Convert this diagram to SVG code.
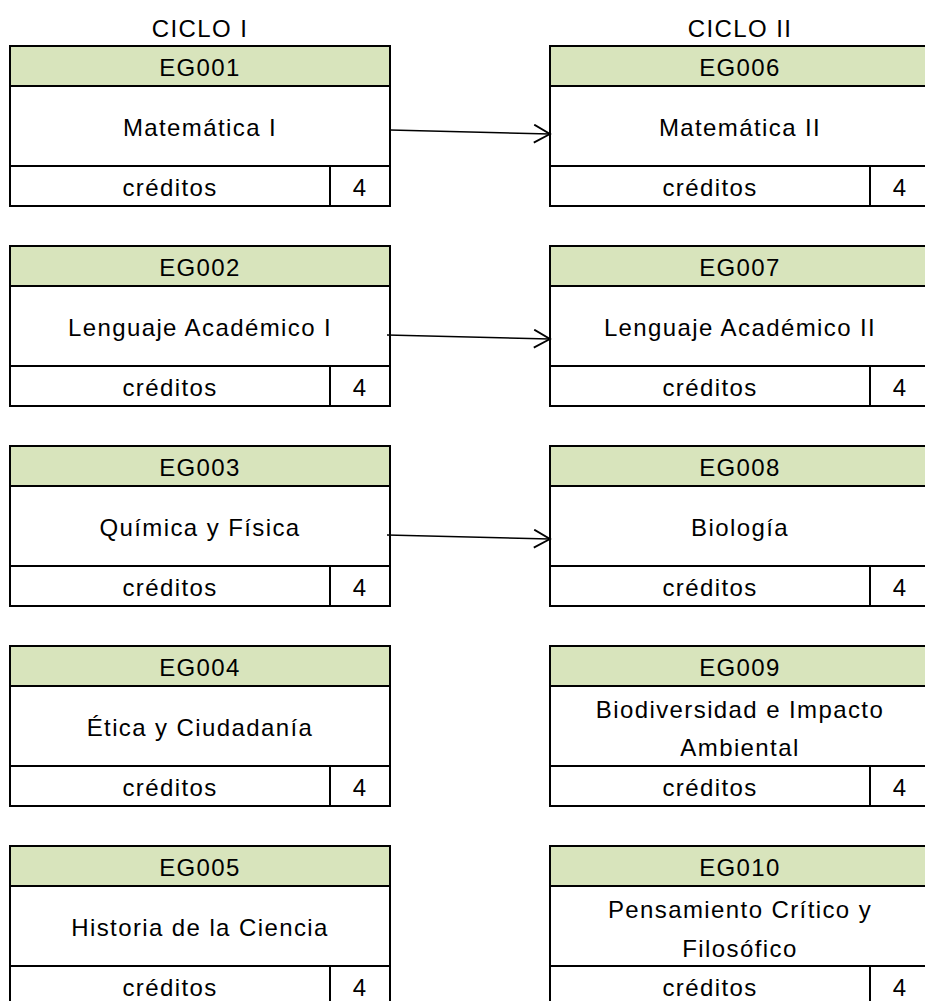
<svg xmlns="http://www.w3.org/2000/svg" width="925" height="1001" viewBox="0 0 925 1001">
<style>
text{font-family:"Liberation Sans",Arial,sans-serif;font-size:24px;fill:#000;text-anchor:middle;letter-spacing:1.4px}
.hdr{fill:#D8E4BC;stroke:#000;stroke-width:2}
.cell{fill:#fff;stroke:#000;stroke-width:2}
.conn{fill:none;stroke:#000;stroke-width:1.5}
</style>
<defs>
<marker id="arr" markerUnits="userSpaceOnUse" markerWidth="20" markerHeight="22" refX="17" refY="10" orient="auto">
<path d="M1,1 L17,10 L1,19" fill="none" stroke="#000" stroke-width="1.8"/>
</marker>
</defs>
<rect width="925" height="1001" fill="#fff"/>
<text x="200" y="37">CICLO I</text>
<text x="740" y="37">CICLO II</text>

<g id="EG001">
<rect class="cell" x="10" y="86" width="380" height="80"/>
<rect class="cell" x="10" y="166" width="320" height="40"/>
<rect class="cell" x="330" y="166" width="60" height="40"/>
<rect class="hdr" x="10" y="46" width="380" height="40"/>
<text x="200" y="76">EG001</text>
<text x="200" y="136">Matemática I</text>
<text x="170" y="196">créditos</text>
<text x="360" y="196">4</text>
</g>
<g id="EG002">
<rect class="cell" x="10" y="286" width="380" height="80"/>
<rect class="cell" x="10" y="366" width="320" height="40"/>
<rect class="cell" x="330" y="366" width="60" height="40"/>
<rect class="hdr" x="10" y="246" width="380" height="40"/>
<text x="200" y="276">EG002</text>
<text x="200" y="336">Lenguaje Académico I</text>
<text x="170" y="396">créditos</text>
<text x="360" y="396">4</text>
</g>
<g id="EG003">
<rect class="cell" x="10" y="486" width="380" height="80"/>
<rect class="cell" x="10" y="566" width="320" height="40"/>
<rect class="cell" x="330" y="566" width="60" height="40"/>
<rect class="hdr" x="10" y="446" width="380" height="40"/>
<text x="200" y="476">EG003</text>
<text x="200" y="536">Química y Física</text>
<text x="170" y="596">créditos</text>
<text x="360" y="596">4</text>
</g>
<g id="EG004">
<rect class="cell" x="10" y="686" width="380" height="80"/>
<rect class="cell" x="10" y="766" width="320" height="40"/>
<rect class="cell" x="330" y="766" width="60" height="40"/>
<rect class="hdr" x="10" y="646" width="380" height="40"/>
<text x="200" y="676">EG004</text>
<text x="200" y="736">Ética y Ciudadanía</text>
<text x="170" y="796">créditos</text>
<text x="360" y="796">4</text>
</g>
<g id="EG005">
<rect class="cell" x="10" y="886" width="380" height="80"/>
<rect class="cell" x="10" y="966" width="320" height="40"/>
<rect class="cell" x="330" y="966" width="60" height="40"/>
<rect class="hdr" x="10" y="846" width="380" height="40"/>
<text x="200" y="876">EG005</text>
<text x="200" y="936">Historia de la Ciencia</text>
<text x="170" y="996">créditos</text>
<text x="360" y="996">4</text>
</g>

<g id="EG006">
<rect class="cell" x="550" y="86" width="380" height="80"/>
<rect class="cell" x="550" y="166" width="320" height="40"/>
<rect class="cell" x="870" y="166" width="60" height="40"/>
<rect class="hdr" x="550" y="46" width="380" height="40"/>
<text x="740" y="76">EG006</text>
<text x="740" y="136">Matemática II</text>
<text x="710" y="196">créditos</text>
<text x="900" y="196">4</text>
</g>
<g id="EG007">
<rect class="cell" x="550" y="286" width="380" height="80"/>
<rect class="cell" x="550" y="366" width="320" height="40"/>
<rect class="cell" x="870" y="366" width="60" height="40"/>
<rect class="hdr" x="550" y="246" width="380" height="40"/>
<text x="740" y="276">EG007</text>
<text x="740" y="336">Lenguaje Académico II</text>
<text x="710" y="396">créditos</text>
<text x="900" y="396">4</text>
</g>
<g id="EG008">
<rect class="cell" x="550" y="486" width="380" height="80"/>
<rect class="cell" x="550" y="566" width="320" height="40"/>
<rect class="cell" x="870" y="566" width="60" height="40"/>
<rect class="hdr" x="550" y="446" width="380" height="40"/>
<text x="740" y="476">EG008</text>
<text x="740" y="536">Biología</text>
<text x="710" y="596">créditos</text>
<text x="900" y="596">4</text>
</g>
<g id="EG009">
<rect class="cell" x="550" y="686" width="380" height="80"/>
<rect class="cell" x="550" y="766" width="320" height="40"/>
<rect class="cell" x="870" y="766" width="60" height="40"/>
<rect class="hdr" x="550" y="646" width="380" height="40"/>
<text x="740" y="676">EG009</text>
<text x="740" y="718">Biodiversidad e Impacto</text>
<text x="740" y="756">Ambiental</text>
<text x="710" y="796">créditos</text>
<text x="900" y="796">4</text>
</g>
<g id="EG010">
<rect class="cell" x="550" y="886" width="380" height="80"/>
<rect class="cell" x="550" y="966" width="320" height="40"/>
<rect class="cell" x="870" y="966" width="60" height="40"/>
<rect class="hdr" x="550" y="846" width="380" height="40"/>
<text x="740" y="876">EG010</text>
<text x="740" y="918">Pensamiento Crítico y</text>
<text x="740" y="957">Filosófico</text>
<text x="710" y="996">créditos</text>
<text x="900" y="996">4</text>
</g>

<g id="connectors">
<path class="conn" d="M390,130 L550,134" marker-end="url(#arr)"/>
<path class="conn" d="M387,335 L550,339" marker-end="url(#arr)"/>
<path class="conn" d="M387,535 L550,539" marker-end="url(#arr)"/>
</g>
</svg>
